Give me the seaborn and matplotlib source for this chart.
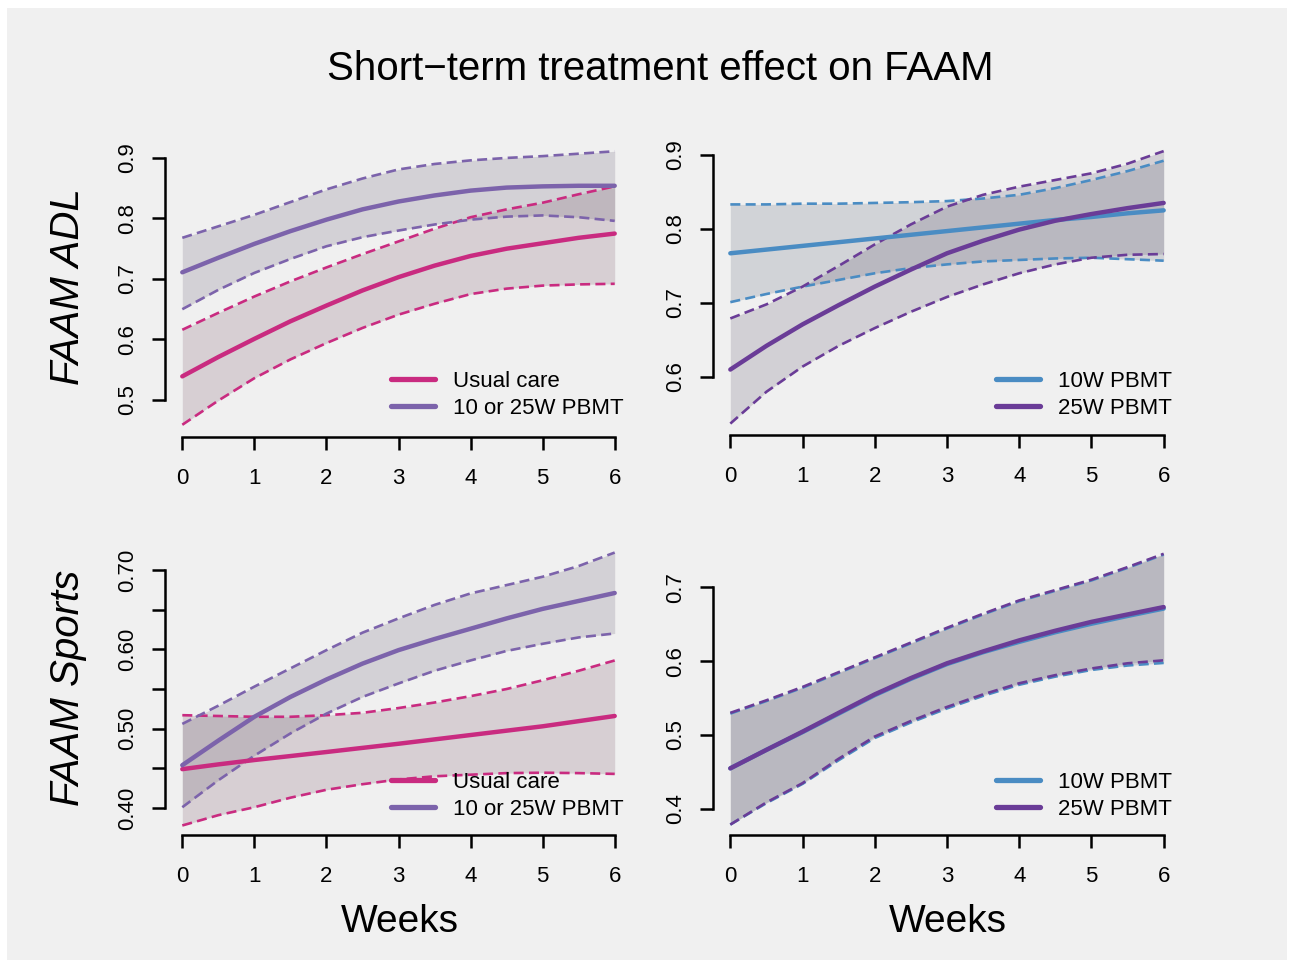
import numpy as np
import matplotlib
matplotlib.use("Agg")
import matplotlib.pyplot as plt
from matplotlib.patches import Rectangle
from matplotlib.lines import Line2D
import seaborn as sns

sns.set_style("white")
plt.rcParams["font.family"] = ["Liberation Sans", "DejaVu Sans"]
plt.rcParams["text.color"] = "black"
plt.rcParams["xtick.color"] = "black"
plt.rcParams["ytick.color"] = "black"
plt.rcParams["xtick.labelcolor"] = "black"
plt.rcParams["ytick.labelcolor"] = "black"

# ---- data -----------------------------------------------------------------
weeks = [0, 0.5, 1, 1.5, 2, 2.5, 3, 3.5, 4, 4.5, 5, 5.5, 6]

# FAAM ADL: usual care vs pooled PBMT
adl_uc_mean = [0.539, 0.571, 0.601, 0.630, 0.656, 0.681, 0.703, 0.722, 0.738, 0.750, 0.759, 0.768, 0.775]
adl_uc_lo   = [0.459, 0.499, 0.536, 0.567, 0.594, 0.619, 0.641, 0.659, 0.675, 0.684, 0.689, 0.691, 0.692]
adl_uc_hi   = [0.616, 0.644, 0.671, 0.696, 0.719, 0.741, 0.762, 0.783, 0.802, 0.815, 0.826, 0.840, 0.853]
adl_pb_mean = [0.711, 0.735, 0.758, 0.779, 0.798, 0.815, 0.828, 0.838, 0.846, 0.851, 0.853, 0.854, 0.854]
adl_pb_lo   = [0.650, 0.682, 0.710, 0.733, 0.754, 0.769, 0.780, 0.790, 0.798, 0.803, 0.805, 0.802, 0.796]
adl_pb_hi   = [0.768, 0.787, 0.806, 0.827, 0.848, 0.866, 0.881, 0.890, 0.896, 0.900, 0.903, 0.907, 0.911]

# FAAM ADL: 10W vs 25W
adl_10_mean = [0.767, 0.772, 0.777, 0.782, 0.787, 0.792, 0.797, 0.802, 0.807, 0.812, 0.816, 0.821, 0.825]
adl_10_lo   = [0.701, 0.712, 0.722, 0.731, 0.740, 0.747, 0.752, 0.756, 0.758, 0.760, 0.761, 0.759, 0.757]
adl_10_hi   = [0.833, 0.833, 0.834, 0.834, 0.835, 0.836, 0.8375, 0.841, 0.846, 0.855, 0.866, 0.878, 0.892]
adl_25_mean = [0.610, 0.642, 0.671, 0.697, 0.722, 0.745, 0.767, 0.784, 0.799, 0.811, 0.820, 0.828, 0.835]
adl_25_lo   = [0.537, 0.580, 0.614, 0.642, 0.666, 0.688, 0.708, 0.725, 0.740, 0.752, 0.761, 0.765, 0.766]
adl_25_hi   = [0.679, 0.698, 0.722, 0.750, 0.779, 0.806, 0.830, 0.846, 0.857, 0.866, 0.875, 0.888, 0.905]

# FAAM Sports: usual care vs pooled PBMT
sp_uc_mean = [0.449, 0.455, 0.4605, 0.4655, 0.4706, 0.4758, 0.481, 0.4865, 0.492, 0.4975, 0.503, 0.5095, 0.516]
sp_uc_lo   = [0.378, 0.391, 0.401, 0.413, 0.423, 0.430, 0.436, 0.440, 0.442, 0.444, 0.4445, 0.444, 0.443]
sp_uc_hi   = [0.517, 0.516, 0.515, 0.515, 0.517, 0.520, 0.526, 0.533, 0.541, 0.550, 0.561, 0.573, 0.586]
sp_pb_mean = [0.454, 0.485, 0.515, 0.540, 0.562, 0.582, 0.599, 0.613, 0.626, 0.639, 0.651, 0.661, 0.671]
sp_pb_lo   = [0.401, 0.435, 0.466, 0.494, 0.519, 0.540, 0.557, 0.573, 0.586, 0.598, 0.607, 0.615, 0.620]
sp_pb_hi   = [0.506, 0.529, 0.553, 0.576, 0.599, 0.621, 0.639, 0.656, 0.6705, 0.681, 0.6915, 0.705, 0.722]

# FAAM Sports: 10W vs 25W
sp_10_mean = [0.455, 0.480, 0.504, 0.529, 0.554, 0.576, 0.596, 0.612, 0.626, 0.639, 0.6505, 0.661, 0.671]
sp_10_lo   = [0.379, 0.408, 0.434, 0.466, 0.496, 0.517, 0.536, 0.553, 0.568, 0.579, 0.588, 0.594, 0.5975]
sp_10_hi   = [0.529, 0.546, 0.564, 0.584, 0.604, 0.624, 0.644, 0.663, 0.681, 0.695, 0.709, 0.726, 0.744]
sp_25_mean = [0.455, 0.480, 0.5046, 0.530, 0.555, 0.577, 0.597, 0.613, 0.628, 0.641, 0.653, 0.663, 0.673]
sp_25_lo   = [0.379, 0.409, 0.435, 0.468, 0.498, 0.519, 0.538, 0.555, 0.570, 0.581, 0.590, 0.597, 0.601]
sp_25_hi   = [0.530, 0.547, 0.565, 0.585, 0.605, 0.625, 0.645, 0.664, 0.682, 0.696, 0.710, 0.727, 0.745]

x_ticks = [0, 1, 2, 3, 4, 5, 6]
col_uc = "#C92B80"
col_pb = "#7C63AB"
col_10 = "#4A8CC3"
col_25 = "#6A3C97"

# ---- figure ----------------------------------------------------------------
W, H = 1290, 963
fig = plt.figure(figsize=(W / 100, H / 100), dpi=100)
fig.patch.set_facecolor("white")
fig.patches.append(Rectangle((7 / W, 1 - 960 / H), 1280 / W, 952 / H,
                             transform=fig.transFigure, facecolor="#F0F0F0",
                             edgecolor="none", zorder=-10))


def add_panel(left, right, top, bottom):
    ax = fig.add_axes([left / W, 1 - bottom / H, (right - left) / W, (bottom - top) / H])
    ax.set_facecolor("none")
    return ax


def band_colour(c):
    rgb = np.array(matplotlib.colors.to_rgb(c))
    return tuple(0.25 * rgb + 0.75 * np.array([0.30, 0.29, 0.31]))


def draw_group(ax, lo, hi, colour):
    ax.fill_between(weeks, lo, hi, color=band_colour(colour), alpha=0.19,
                    linewidth=0, zorder=1)


def draw_lines(ax, mean, lo, hi, colour):
    for vals in (lo, hi):
        sns.lineplot(x=weeks, y=vals, ax=ax, color=colour, linewidth=1.9,
                     linestyle=(0, (3.8, 2.0)), errorbar=None, zorder=3)
    sns.lineplot(x=weeks, y=mean, ax=ax, color=colour, linewidth=3.2,
                 errorbar=None, zorder=4, solid_capstyle="round")


def style_axes(ax, ylim, yticks, ylabels):
    ax.set_xlim(-0.24, 6.24)
    ax.set_ylim(*ylim)
    ax.set_xticks(x_ticks)
    ax.set_xticklabels([str(t) for t in x_ticks])
    ax.set_yticks(yticks)
    ax.set_yticklabels(ylabels, rotation=90, va="center")
    for s in ("top", "right"):
        ax.spines[s].set_visible(False)
    ax.spines["left"].set_bounds(yticks[0], yticks[-1])
    ax.spines["bottom"].set_bounds(x_ticks[0], x_ticks[-1])
    for s in ("left", "bottom"):
        ax.spines[s].set_linewidth(1.8)
        ax.spines[s].set_color("black")
    ax.tick_params(axis="both", which="major", length=9.5, width=1.8,
                   color="black", labelcolor="black", labelsize=16,
                   direction="out", left=True, bottom=True)
    ax.tick_params(axis="y", pad=10)
    ax.tick_params(axis="x", pad=13)
    ax.set_xlabel("")
    ax.set_ylabel("")


def add_legend(ax, labels, colours, x_px, y_px):
    handles = [Line2D([0], [0], color=c, lw=3.8, solid_capstyle="round") for c in colours]
    leg = ax.legend(handles, labels, loc="center left",
                    bbox_to_anchor=(x_px / W, 1 - y_px / H), bbox_transform=fig.transFigure,
                    frameon=False, fontsize=16, handlelength=2.0, handletextpad=0.8,
                    labelspacing=0.25, borderpad=0, borderaxespad=0)
    for t in leg.get_texts():
        t.set_color("black")


# top-left: ADL, usual care vs PBMT
ax1 = add_panel(165, 632, 141, 437)
draw_group(ax1, adl_uc_lo, adl_uc_hi, col_uc)
draw_group(ax1, adl_pb_lo, adl_pb_hi, col_pb)
draw_lines(ax1, adl_uc_mean, adl_uc_lo, adl_uc_hi, col_uc)
draw_lines(ax1, adl_pb_mean, adl_pb_lo, adl_pb_hi, col_pb)
style_axes(ax1, (0.4388, 0.928), [0.5, 0.6, 0.7, 0.8, 0.9],
           ["0.5", "0.6", "0.7", "0.8", "0.9"])
add_legend(ax1, ["Usual care", "10 or 25W PBMT"], [col_uc, col_pb], 391, 395)

# top-right: ADL, 10W vs 25W
ax2 = add_panel(713, 1181, 140, 435)
draw_group(ax2, adl_10_lo, adl_10_hi, col_10)
draw_group(ax2, adl_25_lo, adl_25_hi, col_25)
draw_lines(ax2, adl_10_mean, adl_10_lo, adl_10_hi, col_10)
draw_lines(ax2, adl_25_mean, adl_25_lo, adl_25_hi, col_25)
style_axes(ax2, (0.5216, 0.920), [0.6, 0.7, 0.8, 0.9],
           ["0.6", "0.7", "0.8", "0.9"])
add_legend(ax2, ["10W PBMT", "25W PBMT"], [col_10, col_25], 996, 395)

# bottom-left: Sports, usual care vs PBMT
ax3 = add_panel(165, 632, 542, 835)
draw_group(ax3, sp_uc_lo, sp_uc_hi, col_uc)
draw_group(ax3, sp_pb_lo, sp_pb_hi, col_pb)
draw_lines(ax3, sp_uc_mean, sp_uc_lo, sp_uc_hi, col_uc)
draw_lines(ax3, sp_pb_mean, sp_pb_lo, sp_pb_hi, col_pb)
sp_ticks = [0.40, 0.45, 0.50, 0.55, 0.60, 0.65, 0.70]
style_axes(ax3, (0.366, 0.7353), sp_ticks,
           ["0.40", "", "0.50", "", "0.60", "", "0.70"])
add_legend(ax3, ["Usual care", "10 or 25W PBMT"], [col_uc, col_pb], 391, 796)

# bottom-right: Sports, 10W vs 25W
ax4 = add_panel(713, 1181, 543, 835)
draw_group(ax4, sp_10_lo, sp_10_hi, col_10)
draw_group(ax4, sp_25_lo, sp_25_hi, col_25)
draw_lines(ax4, sp_10_mean, sp_10_lo, sp_10_hi, col_10)
draw_lines(ax4, sp_25_mean, sp_25_lo, sp_25_hi, col_25)
style_axes(ax4, (0.3649, 0.7596), [0.4, 0.5, 0.6, 0.7],
           ["0.4", "0.5", "0.6", "0.7"])
add_legend(ax4, ["10W PBMT", "25W PBMT"], [col_10, col_25], 996, 796)

# titles and outer labels
fig.text(660 / W, 1 - 69 / H, "Short\u2212term treatment effect on FAAM",
         ha="center", va="center", fontsize=29, color="black")
fig.text(68 / W, 1 - 287 / H, "FAAM ADL", rotation=90, style="italic",
         ha="center", va="center", fontsize=29, color="black")
fig.text(68 / W, 1 - 688 / H, "FAAM Sports", rotation=90, style="italic",
         ha="center", va="center", fontsize=29, color="black")
fig.text(400 / W, 1 - 922 / H, "Weeks", ha="center", va="center", fontsize=28, color="black")
fig.text(948 / W, 1 - 922 / H, "Weeks", ha="center", va="center", fontsize=28, color="black")

fig.savefig("out.png", dpi=100, facecolor="white")
